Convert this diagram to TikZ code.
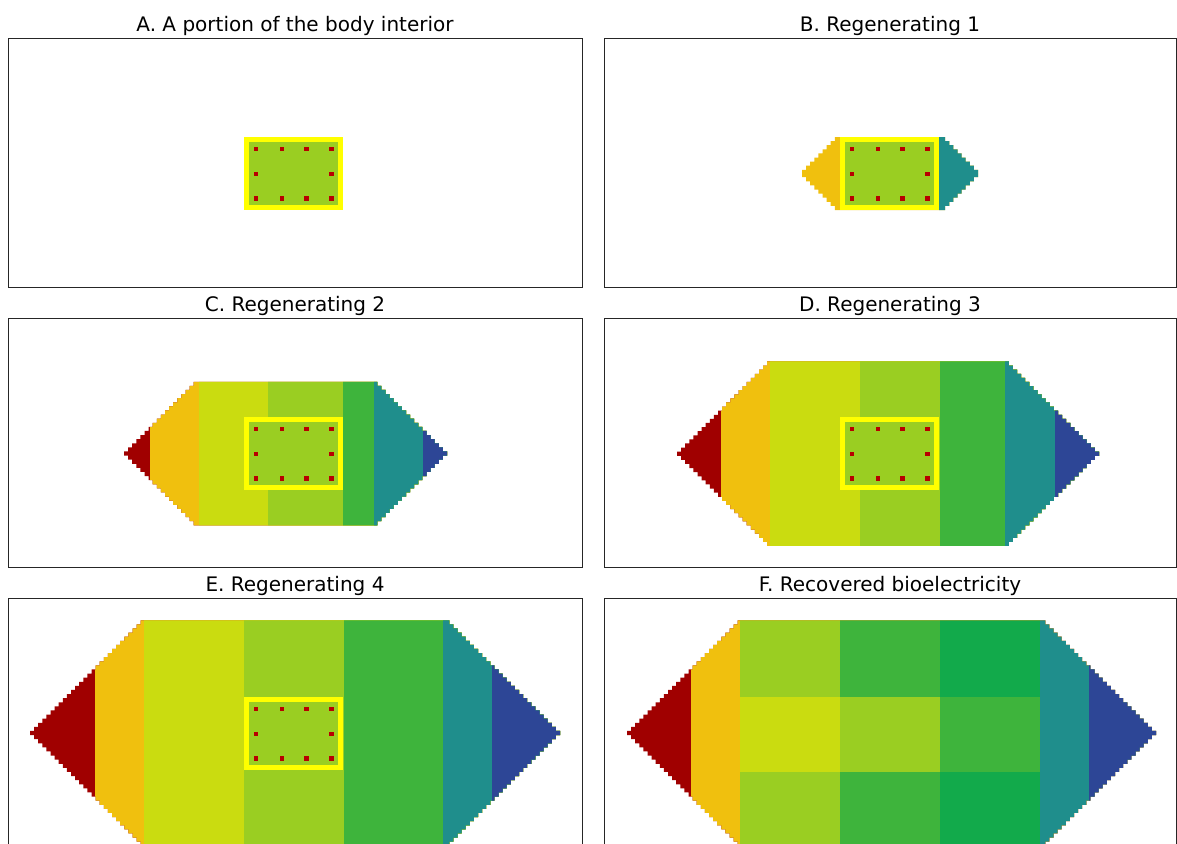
\documentclass[tikz,border=0pt]{standalone}
\usepackage{fontspec}
\setmainfont{DejaVu Sans}
\definecolor{cred}{HTML}{A00000}
\definecolor{corange}{HTML}{F0C00E}
\definecolor{cyg}{HTML}{CADC10}
\definecolor{cgreen}{HTML}{9ACE22}
\definecolor{cdgreen}{HTML}{3EB43C}
\definecolor{cddgreen}{HTML}{12AA4B}
\definecolor{cteal}{HTML}{1F8E8C}
\definecolor{cblue}{HTML}{2D4696}
\definecolor{cdot}{HTML}{B80000}
\definecolor{cborder}{HTML}{FFFF00}
\definecolor{cframe}{HTML}{262626}
\def\cellsz{4.1}
% stepped hexagon used as a clip: #1 left tip, #2 right tip, #3 centre row, #4 steps, #5 half tip height
\newcommand{\hexclip}[5]{%
  \clip (#1,{#3-#5})
    \foreach \k in {1,...,#4} { -- ++(\cellsz,0) -- ++(0,-\cellsz) }
    -- ({#2-#4*\cellsz},{#3-#5-#4*\cellsz})
    \foreach \k in {1,...,#4} { -- ++(0,\cellsz) -- ++(\cellsz,0) }
    -- ++(0,{2*#5})
    \foreach \k in {1,...,#4} { -- ++(-\cellsz,0) -- ++(0,\cellsz) }
    -- ({#1+#4*\cellsz},{#3+#5+#4*\cellsz})
    \foreach \k in {1,...,#4} { -- ++(0,-\cellsz) -- ++(-\cellsz,0) }
    -- cycle;}
% yellow-framed sample with its ten electrodes; #1,#2 = top-left corner
\newcommand{\samplebox}[2]{%
  \fill[cborder] (#1,#2) rectangle ++(99,73);
  \fill[cgreen] ({#1+4.6},{#2+4.6}) rectangle ++(89.8,63.8);
  \foreach \dx/\dy in {12/12,37.8/12,62.2/12,87.5/12,12/37,87.5/37,12/61.5,37.8/61.5,62.2/61.5,87.5/61.5}
    \fill[cdot] ({#1+\dx-2.3},{#2+\dy-2.3}) rectangle ++(4.6,4.6);}
\begin{document}
\begin{tikzpicture}[x=1pt,y=-1pt,
  paneltitle/.style={anchor=base,inner sep=0pt,font=\fontsize{20}{24}\selectfont},
  frame/.style={draw=cframe,line width=0.9pt}]
\useasboundingbox (0,0) rectangle (1177,843);
\clip (0,0) rectangle (1177,843);
\fill[white] (0,0) rectangle (1177,843);

% titles
\node[paneltitle] (tA) at (295,31.4) {A. A portion of the body interior};
\node[paneltitle] (tB) at (890,31.4) {B. Regenerating 1};
\node[paneltitle] (tC) at (295,311.4) {C. Regenerating 2};
\node[paneltitle] (tD) at (890,311.4) {D. Regenerating 3};
\node[paneltitle] (tE) at (295,591.4) {E. Regenerating 4};
\node[paneltitle] (tF) at (890,591.4) {F. Recovered bioelectricity};

% A
\samplebox{244}{137}

% B
\begin{scope}
  \hexclip{802}{978}{173.5}{8}{3.7}
  \fill[corange] (790,100) rectangle (1000,250);
  \fill[cteal] (939,100) rectangle (1000,250);
\end{scope}
\samplebox{840}{137}

% C
\begin{scope}
  \hexclip{124}{447}{453.5}{17}{2.05}
  \fill[cred] (100,360) rectangle (470,550);
  \fill[corange] (150,360) rectangle (470,550);
  \fill[cyg] (199,360) rectangle (470,550);
  \fill[cgreen] (268,360) rectangle (470,550);
  \fill[cdgreen] (343,360) rectangle (470,550);
  \fill[cteal] (374,360) rectangle (470,550);
  \fill[cblue] (423,360) rectangle (470,550);
\end{scope}
\samplebox{244}{417}

% D
\begin{scope}
  \hexclip{677}{1099}{453.7}{22}{2.05}
  \fill[cred] (660,350) rectangle (1120,560);
  \fill[corange] (721,350) rectangle (1120,560);
  \fill[cyg] (770,350) rectangle (1120,560);
  \fill[cgreen] (860,350) rectangle (1120,560);
  \fill[cdgreen] (940,350) rectangle (1120,560);
  \fill[cteal] (1005,350) rectangle (1120,560);
  \fill[cblue] (1055,350) rectangle (1120,560);
\end{scope}
\samplebox{840}{417}

% E
\begin{scope}
  \hexclip{30}{560}{733}{27}{2.05}
  \fill[cred] (20,610) rectangle (575,860);
  \fill[corange] (95,610) rectangle (575,860);
  \fill[cyg] (144,610) rectangle (575,860);
  \fill[cgreen] (244,610) rectangle (575,860);
  \fill[cdgreen] (344,610) rectangle (575,860);
  \fill[cteal] (443,610) rectangle (575,860);
  \fill[cblue] (492,610) rectangle (575,860);
\end{scope}
\samplebox{244}{697}

% F
\begin{scope}
  \hexclip{627}{1156}{733}{27}{2.05}
  \fill[cred] (615,610) rectangle (1170,860);
  \fill[corange] (691,610) rectangle (1170,860);
  \fill[cgreen] (740,610) rectangle (840,860);
  \fill[cdgreen] (840,610) rectangle (940,860);
  \fill[cddgreen] (940,610) rectangle (1040,860);
  \fill[cyg] (740,697) rectangle (840,772);
  \fill[cgreen] (840,697) rectangle (940,772);
  \fill[cdgreen] (940,697) rectangle (1040,772);
  \fill[cteal] (1040,610) rectangle (1170,860);
  \fill[cblue] (1089,610) rectangle (1170,860);
\end{scope}

% axes frames
\draw[frame] (8,38) rectangle (582,287.5);
\draw[frame] (604,38) rectangle (1176,287.5);
\draw[frame] (8,318) rectangle (582,567.5);
\draw[frame] (604,318) rectangle (1176,567.5);
\draw[frame] (8,598) rectangle (582,847.5);
\draw[frame] (604,598) rectangle (1176,847.5);
\end{tikzpicture}
\end{document}
